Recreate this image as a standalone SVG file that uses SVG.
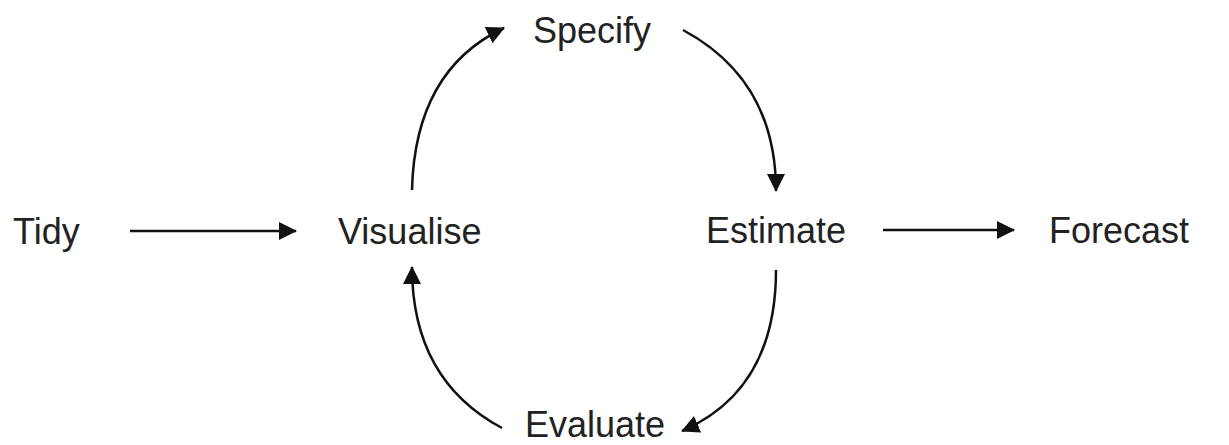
<svg xmlns="http://www.w3.org/2000/svg" width="1229" height="445" viewBox="0 0 1229 445">
<style>
  .lbl { font-family: "Liberation Sans", Arial, sans-serif; font-size: 36px; fill: #222222; }
  .con { fill: none; stroke: #111; stroke-width: 2.5; marker-end: url(#arr); }
</style>
<defs>
  <marker id="arr" markerUnits="userSpaceOnUse" markerWidth="18" markerHeight="18" viewBox="0 0 18 18" refX="17" refY="9" orient="auto">
    <path d="M0,0 L18,9 L0,18 z" fill="#111"/>
  </marker>
</defs>
<rect width="1229" height="445" fill="#ffffff"/>
<g id="connectors">
  <path class="con" d="M130,231 L296,231"/>
  <path class="con" d="M883,230 L1014,230"/>
  <path class="con" d="M412,190 Q415,70 504,28"/>
  <path class="con" d="M683,30 Q776,80 776,191"/>
  <path class="con" d="M776,270 Q776,390 682,431"/>
  <path class="con" d="M502,428 Q412,380 412,267"/>
</g>
<g id="tidy"><text class="lbl" x="13" y="244">Tidy</text></g>
<g id="visualise"><text class="lbl" x="338" y="244">Visualise</text></g>
<g id="specify"><text class="lbl" x="533" y="43">Specify</text></g>
<g id="estimate"><text class="lbl" x="706" y="243">Estimate</text></g>
<g id="forecast"><text class="lbl" x="1049" y="243">Forecast</text></g>
<g id="evaluate"><text class="lbl" x="525" y="437">Evaluate</text></g>
</svg>
